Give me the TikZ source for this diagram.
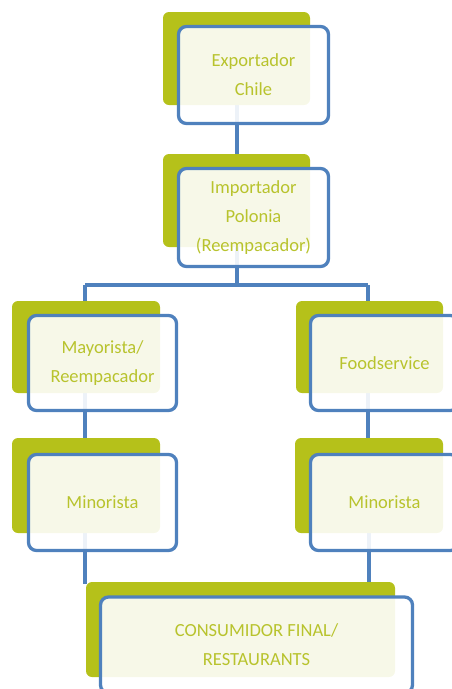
\documentclass[tikz,border=0pt]{standalone}
\usepackage{fontspec}
\setmainfont{Carlito}
\definecolor{olivebg}{RGB}{181,193,26}
\definecolor{boxblue}{RGB}{79,129,189}
\definecolor{txtgreen}{RGB}{184,195,45}
\begin{document}
\begin{tikzpicture}[x=1pt,y=-1pt,
  back/.style={fill=olivebg, rounded corners=6pt},
  front/.style={draw=boxblue, line width=3.3pt, rounded corners=8pt, fill=white, fill opacity=0.9, text opacity=1,
    text=txtgreen, align=center, font=\fontsize{18.5}{29}\selectfont, inner sep=0pt, minimum width=150pt, minimum height=97pt},
  conn/.style={draw=boxblue, line width=3.3pt}]
\useasboundingbox (0,0) rectangle (452,689);
% connectors
\coordinate (hL) at (85,285);
\coordinate (hM) at (237,285);
\coordinate (hR) at (368,285);
\coordinate (t3) at (85,301);
\coordinate (t4) at (368,301);
\coordinate (e1) at (237,154);
\coordinate (b3) at (85,440);
\coordinate (b4) at (368,440);
\coordinate (b5) at (85,584);
\coordinate (b6) at (369,584);
\coordinate (s1) at (237,80);
\coordinate (s2) at (237,230);
\coordinate (s3) at (85,370);
\coordinate (s4) at (368,370);
\coordinate (s5) at (85,510);
\coordinate (s6) at (369,510);
\draw[conn] (s1) -- (e1);
\draw[conn] (s2) -- (hM);
\draw[conn] (hL) -- (hR);
\draw[conn] (hL) -- (t3);
\draw[conn] (hR) -- (t4);
\draw[conn] (s3) -- (b3);
\draw[conn] (s4) -- (b4);
\draw[conn] (s5) -- (b5);
\draw[conn] (s6) -- (b6);
% box 1
\fill[back] (163,12) rectangle (310,105);
\node[front] (n1) at (253.5,75) {Exportador\\Chile};
% box 2
\fill[back] (163,154) rectangle (310,247);
\node[front, minimum height=98pt] (n2) at (253.5,217.5) {Importador\\Polonia\\(Reempacador)};
% box 3
\fill[back] (12,301) rectangle (160,393);
\node[front, minimum width=148pt, minimum height=95pt] (n3) at (102.5,363) {Mayorista/\\Reempacador};
% box 4
\fill[back] (296,301) rectangle (443,393);
\node[front, minimum width=148pt, minimum height=95pt] (n4) at (384.5,363) {Foodservice};
% box 5
\fill[back] (12,438) rectangle (160,533);
\node[front, minimum width=148pt, minimum height=96pt] (n5) at (102.5,502.5) {Minorista};
% box 6
\fill[back] (295,438) rectangle (443,533);
\node[front, minimum width=148pt, minimum height=96pt] (n6) at (384.5,502.5) {Minorista};
% box 7
\fill[back] (86,582) rectangle (395,677);
\node[front, minimum width=312pt, minimum height=96pt] (n7) at (256.5,645) {CONSUMIDOR FINAL/\\RESTAURANTS};
\end{tikzpicture}
\end{document}
